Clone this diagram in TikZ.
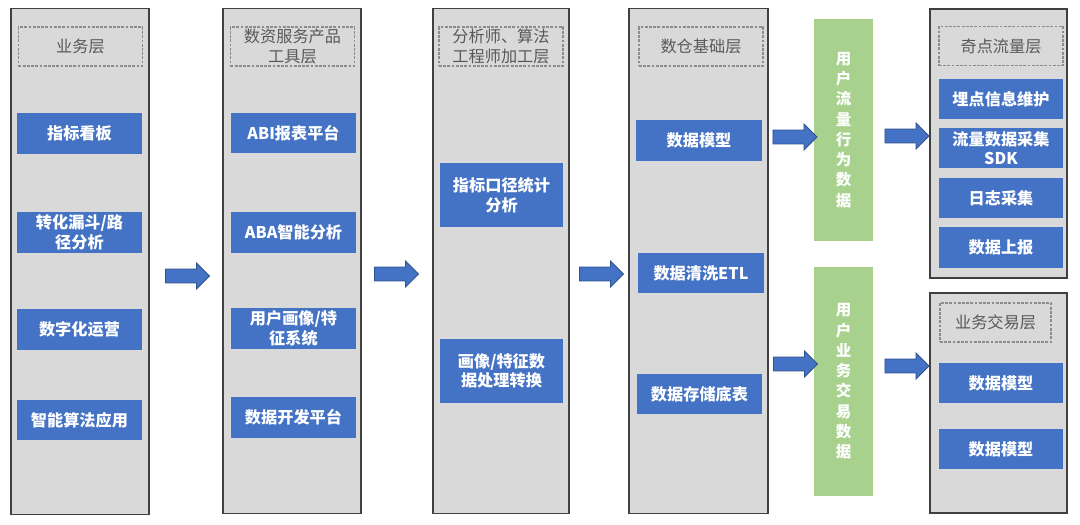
\documentclass[tikz,border=0pt]{standalone}
\usepackage{fontspec}
\setmainfont{Noto Sans CJK SC}
\usepackage{tikz}
\usetikzlibrary{shapes.arrows}
\definecolor{cblue}{RGB}{68,114,196}
\definecolor{cblueline}{RGB}{47,82,143}
\definecolor{cgrey}{RGB}{217,217,217}
\definecolor{cgreen}{RGB}{169,209,142}
\definecolor{ctitle}{RGB}{89,89,89}

\begin{document}
\begin{tikzpicture}[x=0.025cm,y=-0.025cm,
  panel node/.style={draw=black!75,fill=cgrey,line width=0.8pt,inner sep=0},
  title node/.style={draw=black!45,dash pattern=on 2pt off 1pt,line width=0.8pt,
        text=ctitle,font=\fontsize{11.5}{14}\selectfont,align=center,
        minimum width=3.1cm,minimum height=0.975cm,inner sep=0},
  item node/.style={fill=cblue,text=white,font=\fontsize{11.5}{14}\selectfont\bfseries,
        align=center,minimum width=3.125cm,minimum height=1cm,inner sep=0},
  data node/.style={fill=cgreen,text=white,font=\fontsize{11}{14.4}\selectfont\bfseries,
        align=center,minimum width=1.475cm,inner sep=0},
  flow arrow/.style={single arrow,fill=cblue,draw=cblueline,line width=0.6pt,
        inner xsep=0,inner ysep=0.1625cm,minimum height=1.1cm,minimum width=0.625cm,
        single arrow head extend=0.15cm}]
  \useasboundingbox (0,0) rectangle (1080,525);

  % panels
  \node[panel node,minimum width=3.45cm,minimum height=12.625cm] (p1) at (80,261.5) {};
  \node[panel node,minimum width=3.45cm,minimum height=12.6cm] (p2) at (292,261) {};
  \node[panel node,minimum width=3.4cm,minimum height=12.6cm] (p3) at (501,261) {};
  \node[panel node,minimum width=3.475cm,minimum height=12.6cm] (p4) at (698.5,261) {};
  \node[panel node,minimum width=3.425cm,minimum height=6.725cm] (p5) at (998.5,143.5) {};
  \node[panel node,minimum width=3.425cm,minimum height=5.5cm] (p6) at (998.5,403) {};

  % titles
  \node[title node] (t1) at (80.5,46.5) {业务层};
  \node[title node] (t2) at (292.5,46.5) {数资服务产品\\工具层};
  \node[title node] (t3) at (501,46.5) {分析师、算法\\工程师加工层};
  \node[title node] (t4) at (701,46.5) {数仓基础层};
  \node[title node] (t5) at (1001,46) {奇点流量层};
  \node[title node,minimum width=2.775cm] (t6) at (995.5,322.5) {业务交易层};

  % items
  \node[item node] (b11) at (79.5,133.5) {指标看板};
  \node[item node] (b12) at (79.5,232.5) {转化漏斗/路\\径分析};
  \node[item node] (b13) at (79.5,329.5) {数字化运营};
  \node[item node] (b14) at (79.5,420) {智能算法应用};

  \node[item node] (b21) at (293.5,133) {ABI报表平台};
  \node[item node] (b22) at (293.5,232.5) {ABA智能分析};
  \node[item node] (b23) at (293.5,328.5) {用户画像/特\\征系统};
  \node[item node] (b24) at (293.5,417.5) {数据开发平台};

  \node[item node,minimum width=3.075cm,minimum height=1.6cm] (b31) at (501.5,195) {指标口径统计\\分析};
  \node[item node,minimum width=3.075cm,minimum height=1.6cm] (b32) at (501.5,371) {画像/特征数\\据处理转换};

  \node[item node] (b41) at (699,140.5) {数据模型};
  \node[item node] (b42) at (701,273) {数据清洗ETL};
  \node[item node] (b43) at (699.5,394) {数据存储底表};

  \node[item node,minimum width=3.1cm] (b51) at (1001,99) {埋点信息维护};
  \node[item node,minimum width=3.1cm] (b52) at (1001,148) {流量数据采集\\SDK};
  \node[item node,minimum width=3.1cm] (b53) at (1001,198) {日志采集};
  \node[item node,minimum width=3.1cm] (b54) at (1001,247.5) {数据上报};

  \node[item node,minimum width=3.1cm] (b61) at (1001,383) {数据模型};
  \node[item node,minimum width=3.1cm] (b62) at (1001,449) {数据模型};

  % data bars
  \node[data node,minimum height=5.55cm] (g1) at (843.5,130) {用\\户\\流\\量\\行\\为\\数\\据};
  \node[data node,minimum height=5.725cm] (g2) at (843.5,381.5) {用\\户\\业\\务\\交\\易\\数\\据};

  % arrows
  \node[flow arrow] (a1) at (184,276) {};
  \node[flow arrow] (a2) at (393,274) {};
  \node[flow arrow] (a3) at (598,274) {};
  \node[flow arrow] (a4) at (791.5,137) {};
  \node[flow arrow] (a5) at (792,364) {};
  \node[flow arrow] (a6) at (903.5,136) {};
  \node[flow arrow] (a7) at (903.5,366) {};
\end{tikzpicture}
\end{document}
